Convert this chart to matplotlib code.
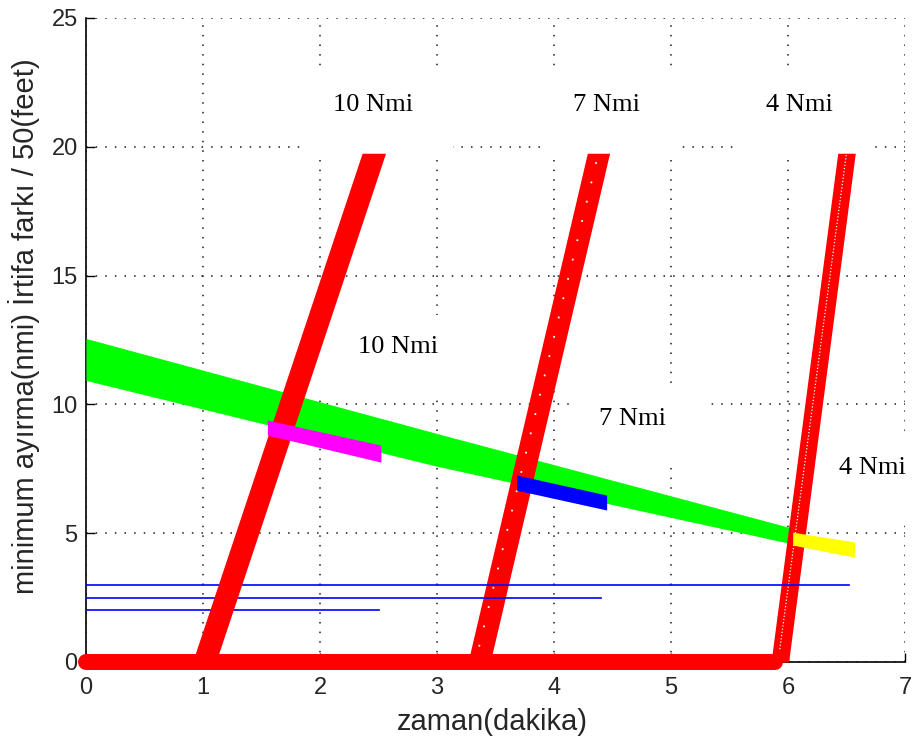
import matplotlib
matplotlib.use("Agg")
import matplotlib.pyplot as plt
from matplotlib.patches import Rectangle

# --- data -------------------------------------------------------------
# red separation tracks (10, 7, 4 Nmi): x at the foot (y=0) and at the head
track_names = ["10 Nmi", "7 Nmi", "4 Nmi"]
track_x_foot = [1.01, 3.36, 5.93]
track_x_head = [2.46, 4.38, 6.50]
track_y_head = [19.75, 19.75, 19.75]

# red base line along y = 0
base_x = [0.0, 5.89]
base_y = [0.0, 0.0]

# green band (upper / lower edge)
green_x = [0.0, 3.0, 6.0, 6.1]
green_top = [12.56, 8.87, 5.24, 5.12]
green_bot = [10.93, 7.60, 4.62, 4.52]

# short bands after each crossing
magenta_x = [1.55, 2.52]
magenta_top = [9.39, 8.42]
magenta_bot = [8.81, 7.76]

blue_x = [3.68, 4.45]
blue_top = [7.26, 6.48]
blue_bot = [6.67, 5.90]

yellow_x = [6.04, 6.57]
yellow_top = [5.04, 4.66]
yellow_bot = [4.54, 4.07]

# thin blue reference levels
ref_y = [3.0, 2.5, 2.0]
ref_x_end = [6.52, 4.40, 2.50]

x_ticks = [0, 1, 2, 3, 4, 5, 6, 7]
y_ticks = [0, 5, 10, 15, 20, 25]

# --- figure -----------------------------------------------------------
fig = plt.figure(figsize=(9.15, 7.44), dpi=100)
ax = fig.add_axes([86 / 915, 1 - 662 / 744, 819 / 915, 644 / 744])
ax.set_xlim(0, 7)
ax.set_ylim(0, 25)

ax.grid(True, color="#1a1a1a", linestyle=(0, (1, 5.3)), linewidth=1.1)
ax.set_axisbelow("line")

# white label panels that sit over the grid
panels = [
    (1.855, 19.64, 1.282, 3.34),
    (3.949, 19.64, 1.111, 3.34),
    (5.556, 19.64, 1.128, 3.34),
    (1.94, 10.17, 1.34, 3.30),
    (4.16, 7.65, 1.13, 2.99),
    (6.15, 5.51, 1.11, 3.30),
]
for (px, py, pw, ph) in panels:
    ax.add_patch(Rectangle((px, py), pw, ph, facecolor="white",
                           edgecolor="none", zorder=1.7, clip_on=False))

# green band
ax.fill_between(green_x, green_bot, green_top, color="#00ff00",
                linewidth=0, zorder=3, clip_on=False)

# thin blue reference lines
for yv, xe in zip(ref_y, ref_x_end):
    ax.plot([0, xe], [yv, yv], color="#0000ff", linewidth=1.2, zorder=3.5)

# red base line
ax.plot(base_x, base_y, color="#ff0000", linewidth=11.5,
        solid_capstyle="round", zorder=4, clip_on=False)

# red slanted tracks
track_width = [0.20, 0.19, 0.15]
track_z = [4.2, 3.2, 3.2]
for xf, xh, yh, w, z in zip(track_x_foot, track_x_head, track_y_head,
                            track_width, track_z):
    ax.fill_betweenx([0, yh], [xf - w / 2, xh - w / 2],
                     [xf + w / 2, xh + w / 2], color="#ff0000",
                     linewidth=0, zorder=z)

# speckled centre of the 7 and 4 Nmi tracks
ax.plot([track_x_foot[1], track_x_head[1]], [0.6, track_y_head[1]],
        color="white", linewidth=1.3, linestyle=(0, (1, 10)), zorder=3.3)
ax.plot([track_x_foot[2], track_x_head[2]], [0.5, track_y_head[2]],
        color="white", linewidth=0.9, linestyle=(0, (1, 1.6)), zorder=3.3)

# short coloured bands
ax.fill_between(magenta_x, magenta_bot, magenta_top, color="#ff00ff",
                linewidth=0, zorder=4.5)
ax.fill_between(blue_x, blue_bot, blue_top, color="#0000ff",
                linewidth=0, zorder=4.5)
ax.fill_between(yellow_x, yellow_bot, yellow_top, color="#ffff00",
                linewidth=0, zorder=4.5)

# labels
label_pos_top = [(2.45, 21.62), (4.45, 21.62), (6.10, 21.62)]
label_pos_mid = [(2.67, 12.23), (4.675, 9.43), (6.72, 7.53)]
for name, (lx, ly) in zip(track_names, label_pos_top):
    ax.text(lx, ly, name, ha="center", va="center", fontsize=19,
            family="Liberation Serif", color="black", zorder=6)
for name, (lx, ly) in zip(track_names, label_pos_mid):
    ax.text(lx, ly, name, ha="center", va="center", fontsize=19,
            family="Liberation Serif", color="black", zorder=6, clip_on=False)

# axes styling
for side in ("top", "right"):
    ax.spines[side].set_visible(False)
for side in ("left", "bottom"):
    ax.spines[side].set_linewidth(1.2)
    ax.spines[side].set_color("black")

ax.set_xticks(x_ticks)
ax.set_yticks(y_ticks)
ax.tick_params(direction="in", length=6.5, width=1.0, color="black",
               labelsize=17, labelcolor="#262626")
ax.tick_params(axis="x", pad=11)
ax.tick_params(axis="y", pad=6)
for lab in ax.get_xticklabels() + ax.get_yticklabels():
    lab.set_family("Liberation Sans")

ax.set_xlabel("zaman(dakika)", fontsize=21, family="Liberation Sans",
              color="#262626", va="center")
ax.xaxis.set_label_coords((492 - 86) / 819, (662 - 722) / 644)
ax.set_ylabel("minimum ayırma(nmi) İrtifa farkı / 50(feet)", fontsize=21,
              family="Liberation Sans", color="#262626", va="center")
ax.yaxis.set_label_coords((24 - 86) / 819, (662 - 326.5) / 644)

fig.savefig("out.png", dpi=100)
